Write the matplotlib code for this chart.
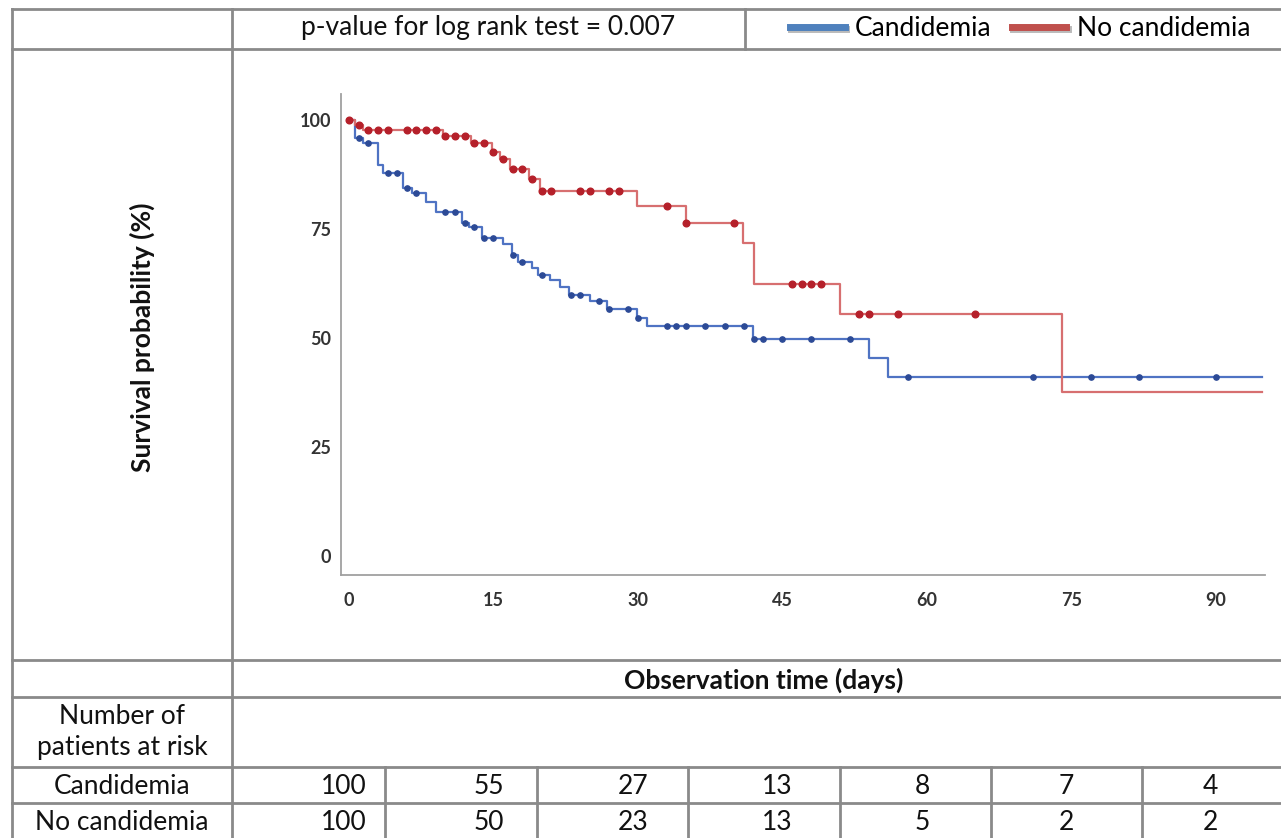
import numpy as np
import matplotlib
matplotlib.use("Agg")
import matplotlib.pyplot as plt
from matplotlib.lines import Line2D
import matplotlib.patheffects as pe
import matplotlib.transforms as mtransforms

plt.rcParams['font.family'] = ['Lato', 'DejaVu Sans']

# ---------------- data ----------------
end_time = 94.8

cand_event_t = [0.6, 1.5, 3.0, 3.5, 5.6, 6.5, 8.0, 9.0, 11.7, 12.5, 13.8, 16.0, 16.9, 17.5,
                19.0, 19.6, 20.9, 21.9, 22.8, 25.0, 26.8, 29.9, 30.9, 41.9, 54.0, 56.0]
cand_event_s = [95.9, 94.7, 89.6, 87.8, 84.4, 83.3, 81.3, 79.0, 76.5, 75.4, 73.0, 71.6, 69.0, 67.5,
                66.0, 64.5, 63.3, 61.8, 59.9, 58.5, 56.6, 54.7, 52.8, 49.7, 45.3, 41.0]
cand_censor_t = [1, 2, 4, 5, 6, 7, 10, 11, 12, 13, 14, 15, 17, 18, 20, 23, 24, 26, 27, 29, 30,
                 33, 34, 35, 37, 39, 41, 42, 43, 45, 48, 52, 58, 71, 77, 82, 90]

nocand_event_t = [0.6, 1.5, 9.8, 12.7, 14.8, 15.7, 16.7, 18.7, 19.8, 29.9, 35.0, 40.9, 42.0, 51.0, 74.0]
nocand_event_s = [98.9, 97.8, 96.3, 94.7, 92.7, 91.0, 88.9, 86.5, 83.8, 80.3, 76.4, 71.9, 62.3, 55.4, 37.5]
nocand_censor_t = [0, 1, 2, 3, 4, 6, 7, 8, 9, 10, 11, 12, 13, 14, 15, 16, 17, 18, 19, 20, 21, 24,
                   25, 27, 28, 33, 35, 40, 46, 47, 48, 49, 53, 54, 57, 65]

x_ticks = [0, 15, 30, 45, 60, 75, 90]
y_ticks = [0, 25, 50, 75, 100]
risk_cand = [100, 55, 27, 13, 8, 7, 4]
risk_nocand = [100, 50, 23, 13, 5, 2, 2]

p_text = "p-value for log rank test = 0.007"
labels = ["Candidemia", "No candidemia"]

# ---------------- figure ----------------
W, H = 1281, 838
fig = plt.figure(figsize=(W / 100, H / 100), dpi=100)
FS = 19


def fx(x):
    return x / W


def fy(y):
    return 1 - y / H


# table grid lines
grid_col = '#8a8a8a'
glw = 2.0


def hline(y, x0=12, x1=1281):
    fig.add_artist(Line2D([fx(x0), fx(x1)], [fy(y), fy(y)], color=grid_col, lw=glw))


def vline(x, y0, y1):
    fig.add_artist(Line2D([fx(x), fx(x)], [fy(y0), fy(y1)], color=grid_col, lw=glw))


for yy in [9, 49, 660, 697, 767, 803]:
    hline(yy)
vline(12, 9, 838)
vline(232, 9, 838)
vline(745, 9, 49)
for xx in [385, 537, 688, 840, 991, 1142]:
    vline(xx, 767, 838)

# main axes
ax = fig.add_axes([fx(341), fy(575), fx(1265) - fx(341), fy(94) - fy(575)])
ax.set_xlim(-0.83, 95.1)
ax.set_ylim(-4.4, 106)
for s in ['top', 'right']:
    ax.spines[s].set_visible(False)
for s in ['left', 'bottom']:
    ax.spines[s].set_color('#a0a0a0')
    ax.spines[s].set_linewidth(1.3)
ax.set_xticks(x_ticks)
ax.set_yticks(y_ticks)
ax.tick_params(axis='both', length=0, labelsize=13, labelcolor='#333333')
ax.tick_params(axis='y', pad=7)
ax.tick_params(axis='x', pad=12)
for lab in ax.get_xticklabels() + ax.get_yticklabels():
    lab.set_fontweight('bold')


def curve(event_t, event_s):
    t = np.concatenate([[0.0], event_t, [end_time]])
    s = np.concatenate([[100.0], event_s, [event_s[-1]]])
    return t, s


def surv_at(times, event_t, event_s):
    st = np.concatenate([[100.0], event_s])
    idx = np.searchsorted(np.asarray(event_t), np.asarray(times, dtype=float), side='right')
    return st[idx]


blue_line, blue_dot = '#4f73c3', '#2c4a96'
red_line, red_dot = '#d76f70', '#b5202a'

t, s = curve(cand_event_t, cand_event_s)
ax.step(t, s, where='post', color=blue_line, lw=1.6, zorder=3)
ax.plot(cand_censor_t, surv_at(cand_censor_t, cand_event_t, cand_event_s), 'o',
        color=blue_dot, ms=3.8, zorder=4)

t, s = curve(nocand_event_t, nocand_event_s)
ax.step(t, s, where='post', color=red_line, lw=1.6, zorder=3)
ax.plot(nocand_censor_t, surv_at(nocand_censor_t, nocand_event_t, nocand_event_s), 'o',
        color=red_dot, ms=4.8, zorder=4)

# header texts
fig.text(fx(488), fy(28), p_text, ha='center', va='center', fontsize=FS, color='#111111')

shadow = [pe.SimpleLineShadow(offset=(1, -1.5), shadow_color='#777777', alpha=0.5), pe.Normal()]
handles = [Line2D([], [], color='#4f81bd', lw=5, path_effects=shadow),
           Line2D([], [], color='#c0504d', lw=5, path_effects=shadow)]
fig.legend(handles, labels, loc='center left', bbox_to_anchor=(fx(790), fy(29)), ncol=2,
           frameon=False, fontsize=FS, handlelength=2.08, handletextpad=0.38,
           columnspacing=0.76, borderpad=0, borderaxespad=0)

fig.text(fx(142), fy(337), "Survival probability (%)", rotation=90, ha='center', va='center',
         fontsize=FS, fontweight='bold', color='#111111')
fig.text(fx(764), fy(680), "Observation time (days)", ha='center', va='center',
         fontsize=FS, fontweight='bold', color='#111111')
fig.text(fx(122), fy(732), "Number of\npatients at risk", ha='center', va='center',
         fontsize=FS, color='#111111', linespacing=1.33)
fig.text(fx(122), fy(786), labels[0], ha='center', va='center', fontsize=FS, color='#111111')
fig.text(fx(122), fy(822), labels[1], ha='center', va='center', fontsize=FS, color='#111111')

# risk numbers under the x ticks
off = mtransforms.ScaledTranslation(-5 / 100, 0, fig.dpi_scale_trans)
trans = mtransforms.blended_transform_factory(ax.transData, fig.transFigure) + off
for xt, a, b in zip(x_ticks, risk_cand, risk_nocand):
    ax.text(xt, fy(786), str(a), transform=trans, ha='center', va='center', fontsize=FS,
            color='#111111', clip_on=False)
    ax.text(xt, fy(822), str(b), transform=trans, ha='center', va='center', fontsize=FS,
            color='#111111', clip_on=False)

fig.savefig("out.png", dpi=100)
